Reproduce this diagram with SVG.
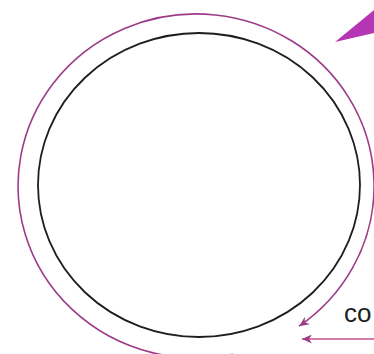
<svg xmlns="http://www.w3.org/2000/svg" width="374" height="354" viewBox="0 0 374 354">
<style>
.loop{fill:none;stroke:#9c3c88;stroke-width:1.6}
.inner{fill:none;stroke:#1e1e1e;stroke-width:1.8}
.flow{fill:none;stroke:#c8508f;stroke-width:1.6}
.lbl{font-family:"Liberation Sans",Arial,sans-serif;font-size:26px;fill:#1e1e1e}
</style>
<defs>
<marker id="ah" markerUnits="userSpaceOnUse" markerWidth="11" markerHeight="9" refX="10" refY="4.5" orient="auto">
<path d="M0,0 L10,4.5 L0,9 L3,4.5 z" fill="#9c3c88"/>
</marker>
</defs>
<rect width="374" height="354" fill="#ffffff"/>
<g id="inner-circle">
<ellipse class="inner" cx="199" cy="185" rx="161" ry="152"/>
</g>
<g id="connectors">
<path class="loop" d="M233,354.2 A178,172 0 1 1 299.1,326.2" marker-end="url(#ah)"/>
<line class="flow" x1="376" y1="339" x2="302" y2="339" marker-end="url(#ah)"/>
</g>
<g id="pointer">
<polygon points="335,42 374,10 374,33" fill="#b436b4"/>
</g>
<g id="label">
<text class="lbl" x="344" y="322">co</text>
</g>
</svg>
